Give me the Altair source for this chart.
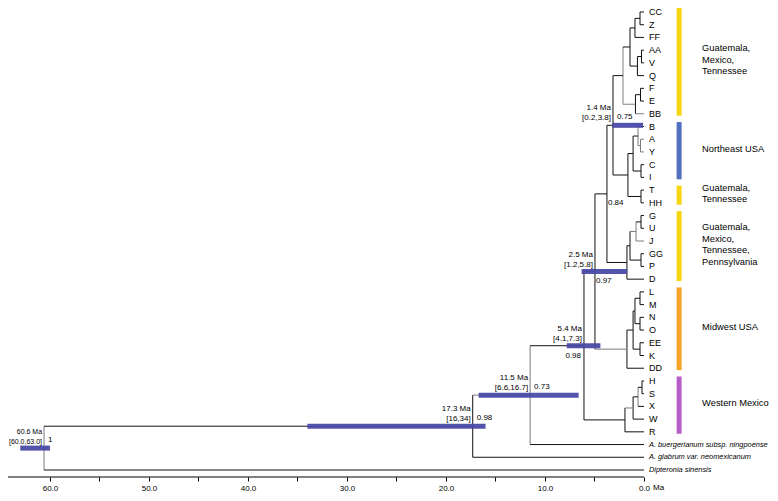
import altair as alt
import pandas as pd

# ---------------- data ----------------
tips = ["CC", "Z", "FF", "AA", "V", "Q", "F", "E", "BB", "B", "A", "Y", "C", "I",
        "T", "HH", "G", "U", "J", "GG", "P", "D", "L", "M", "N", "O", "EE", "K", "DD",
        "H", "S", "X", "W", "R",
        "A. buergerianum subsp. ningpoense", "A. glabrum var. neomexicanum",
        "Dipteronia sinensis"]
italic_tips = ["A. buergerianum subsp. ningpoense", "A. glabrum var. neomexicanum",
               "Dipteronia sinensis"]

node_names = ["CCZ", "CCZFF", "AAV", "AAVQ", "TOP", "FE", "FEBB", "GMT",
              "AY", "BAY", "CI", "NE", "TH", "NETH", "N14",
              "GU", "GUJ", "GGP", "GUJGGP", "GD", "N084",
              "LM", "NO", "LMNO", "EEK", "LMNOEEK", "MW", "N25",
              "HS", "HSX", "HSXW", "WM", "N54", "N115", "N173", "ROOT"]
node_children = [("CC", "Z"), ("CCZ", "FF"), ("AA", "V"), ("AAV", "Q"), ("CCZFF", "AAVQ"),
                 ("F", "E"), ("FE", "BB"), ("TOP", "FEBB"),
                 ("A", "Y"), ("B", "AY"), ("C", "I"), ("BAY", "CI"), ("T", "HH"),
                 ("NE", "TH"), ("GMT", "NETH"),
                 ("G", "U"), ("GU", "J"), ("GG", "P"), ("GUJ", "GGP"), ("GUJGGP", "D"),
                 ("N14", "GD"),
                 ("L", "M"), ("N", "O"), ("LM", "NO"), ("EE", "K"), ("LMNO", "EEK"),
                 ("LMNOEEK", "DD"), ("N084", "MW"),
                 ("H", "S"), ("HS", "X"), ("HSX", "W"), ("HSXW", "R"), ("N25", "WM"),
                 ("N54", "A. buergerianum subsp. ningpoense"),
                 ("N115", "A. glabrum var. neomexicanum"),
                 ("N173", "Dipteronia sinensis")]
# node positions on the time axis (Ma), as drawn
node_ages = [0.40, 0.91, 0.25, 0.66, 1.41, 0.35, 0.86, 2.12,
             0.35, 0.60, 0.30, 1.10, 0.30, 1.62, 3.13,
             0.30, 0.80, 0.30, 1.41, 1.72, 3.74,
             0.40, 0.40, 0.91, 0.40, 1.10, 1.72, 4.95,
             0.20, 0.60, 1.10, 1.92, 6.06, 11.5, 17.3, 60.6]

gray_stems = ["BB", "FEBB", "A", "Y", "AY", "J", "GUJ", "MW", "HSXW", "N115"]
gray_verticals = ["GMT", "AY", "BAY", "GUJ", "N115", "ROOT", "HSX"]

# dated nodes: 95% HPD bars and labels
hpd_nodes = ["ROOT", "N173", "N115", "N54", "N25", "N14"]
hpd_low = [60.0, 16.0, 6.6, 4.4, 1.7, 0.1]
hpd_high = [63.0, 34.0, 16.7, 7.8, 6.3, 3.2]
age_text = ["60.6 Ma", "17.3 Ma", "11.5 Ma", "5.4 Ma", "2.5 Ma", "1.4 Ma"]
ci_text = ["[60.0,63.0]", "[16,34]", "[6.6,16.7]", "[4.1,7.3]", "[1.2,5.8]", "[0.2,3.8]"]

# posterior probabilities
post_nodes = ["ROOT", "N173", "N115", "N14", "N25", "N084", "N54"]
post_text = ["1", "0.98", "0.73", "0.75", "0.97", "0.84", "0.98"]
post_side = ["above", "above", "above", "above", "below", "below", "belowleft"]

# clade bars on the right
clade_labels = ["Guatemala,\nMexico,\nTennessee", "Northeast USA", "Guatemala,\nTennessee",
                "Guatemala,\nMexico,\nTennessee,\nPennsylvania", "Midwest USA", "Western Mexico"]
clade_first = ["CC", "B", "T", "G", "L", "H"]
clade_last = ["BB", "I", "HH", "D", "DD", "R"]
clade_colors = ["#f5d60f", "#5370bf", "#f5d60f", "#f5d60f", "#f7a128", "#b65ec9"]

axis_values = [60, 55, 50, 45, 40, 35, 30, 25, 20, 15, 10, 5, 0]

# ---------------- layout constants ----------------
W, H = 762, 469
X_LEFT, X_RIGHT = 64.24, -12.73
Y_TOP, Y_BOTTOM = -0.3144, 36.550
PX_PER_TIP = H / (Y_BOTTOM - Y_TOP)
CLADE_BAR_MA = -3.55
CLADE_LINE_PX = 11.5
AXIS_START = 65.0
FONT = "Liberation Sans"
BAR_COLOR = "#4a4aa8"

# ---------------- build tables ----------------
py = {t: float(i) for i, t in enumerate(tips)}
px = {t: 0.0 for t in tips}
for n, ch, a in zip(node_names, node_children, node_ages):
    py[n] = (py[ch[0]] + py[ch[1]]) / 2.0
    px[n] = a

seg_rows = []
for n, ch in zip(node_names, node_children):
    seg_rows.append(dict(x=px[n], x2=px[n], y=py[ch[0]], y2=py[ch[1]],
                         c="#7d7d7d" if n in gray_verticals else "#111111"))
    for c in ch:
        seg_rows.append(dict(x=px[n], x2=px[c], y=py[c], y2=py[c],
                             c="#7d7d7d" if c in gray_stems else "#111111"))
segs = pd.DataFrame(seg_rows)

hpd = pd.DataFrame(dict(lo=hpd_low, hi=hpd_high, y=[py[n] for n in hpd_nodes],
                        x=[px[n] for n in hpd_nodes], age=age_text, ci=ci_text,
                        root=[n == "ROOT" for n in hpd_nodes]))
post = pd.DataFrame(dict(x=[px[n] for n in post_nodes], y=[py[n] for n in post_nodes],
                         t=post_text, side=post_side))
tip_df = pd.DataFrame(dict(x=[0.0] * len(tips), y=[py[t] for t in tips], t=tips,
                           it=[t in italic_tips for t in tips]))
clade_df = pd.DataFrame(dict(
    x=[CLADE_BAR_MA] * len(clade_labels),
    y1=[py[a] - 0.35 for a in clade_first],
    y2=[py[b] + 0.15 for b in clade_last],
    c=clade_colors))
line_rows = []
for lab, a, b in zip(clade_labels, clade_first, clade_last):
    parts = lab.split("\n")
    mid = (py[a] + py[b]) / 2.0
    for k, part in enumerate(parts):
        line_rows.append(dict(x=CLADE_BAR_MA, t=part,
                              y=mid + (k - (len(parts) - 1) / 2.0) * CLADE_LINE_PX / PX_PER_TIP))
clade_lines = pd.DataFrame(line_rows)
axis_df = pd.DataFrame(dict(x=[AXIS_START], x2=[0.0], y=[Y_BOTTOM]))

# ---------------- encodings ----------------
xaxis = alt.Axis(values=axis_values, labelExpr="datum.value % 10 == 0 ? format(datum.value, '.1f') : ''",
                 tickSize=4, tickColor="black", domain=False, grid=False, title=None,
                 labelFontSize=8, labelFont=FONT, labelColor="black", labelPadding=3,
                 labelFlush=False, labelOverlap=False)
xs = alt.Scale(domain=[X_LEFT, X_RIGHT], nice=False, zero=False)
ys = alt.Scale(domain=[Y_TOP, Y_BOTTOM], reverse=True, nice=False, zero=False)


def X(f):
    return alt.X(f, type="quantitative", scale=xs, axis=xaxis)


def Y(f):
    return alt.Y(f, type="quantitative", scale=ys, axis=None)


def txt(df, filt=None, **kw):
    base = alt.Chart(df)
    if filt:
        base = base.transform_filter(filt)
    style = dict(font=FONT, color="black")
    style.update(kw)
    return base.mark_text(**style)


tree = alt.Chart(segs).mark_rule(strokeWidth=1).encode(
    x=X("x"), x2="x2", y=Y("y"), y2="y2", color=alt.Color("c:N", scale=None))

bars = alt.Chart(hpd).mark_rule(strokeWidth=5, color=BAR_COLOR, opacity=0.95).encode(
    x=X("lo"), x2="hi", y=Y("y"))

age1 = txt(hpd, "!datum.root", align="right", baseline="bottom", dx=-2, dy=-13, fontSize=8
           ).encode(x=X("x"), y=Y("y"), text="age:N")
age2 = txt(hpd, "!datum.root", align="right", baseline="bottom", dx=-2, dy=-3, fontSize=8
           ).encode(x=X("x"), y=Y("y"), text="ci:N")
root1 = txt(hpd, "datum.root", align="right", baseline="bottom", dx=-2, dy=-13, fontSize=7
            ).encode(x=X("x"), y=Y("y"), text="age:N")
root2 = txt(hpd, "datum.root", align="right", baseline="bottom", dx=-2, dy=-3, fontSize=7
            ).encode(x=X("x"), y=Y("y"), text="ci:N")

post_above = txt(post, "datum.side == 'above'", align="left", baseline="bottom", dx=4, dy=-4,
                 fontSize=8).encode(x=X("x"), y=Y("y"), text="t:N")
post_below = txt(post, "datum.side == 'below'", align="left", baseline="top", dx=1, dy=5,
                 fontSize=8).encode(x=X("x"), y=Y("y"), text="t:N")
post_below_left = txt(post, "datum.side == 'belowleft'", align="right", baseline="top", dx=-3,
                      dy=6, fontSize=8).encode(x=X("x"), y=Y("y"), text="t:N")

tip_plain = txt(tip_df, "!datum.it", align="left", baseline="middle", dx=5, fontSize=9
                ).encode(x=X("x"), y=Y("y"), text="t:N")
tip_ital = txt(tip_df, "datum.it", align="left", baseline="middle", dx=5, fontSize=7.4,
               fontStyle="italic").encode(x=X("x"), y=Y("y"), text="t:N")

clade_bar = alt.Chart(clade_df).mark_rule(strokeWidth=5).encode(
    x=X("x"), y=Y("y1"), y2="y2", color=alt.Color("c:N", scale=None))
clade_txt = txt(clade_lines, None, align="left", baseline="middle", dx=23, dy=-3, fontSize=9.3
                ).encode(x=X("x"), y=Y("y"), text="t:N")

axis_line = alt.Chart(axis_df).mark_rule(strokeWidth=1, color="black").encode(
    x=X("x"), x2="x2", y=Y("y"))
ma_txt = txt(axis_df, None, align="left", baseline="top", dx=9, dy=7, fontSize=8, text="Ma"
             ).encode(x=X("x2"), y=Y("y"))

chart = alt.layer(tree, bars, age1, age2, root1, root2, post_above, post_below, post_below_left,
                  tip_plain, tip_ital, clade_bar, clade_txt, axis_line, ma_txt).properties(
    width=W, height=H, autosize=alt.AutoSizeParams(type="none"),
    padding={"left": 0, "right": 0, "top": 0, "bottom": 16}, background="white"
).configure_view(stroke=None)

chart.save("out.html", embed_options={"renderer": "svg", "actions": False})
